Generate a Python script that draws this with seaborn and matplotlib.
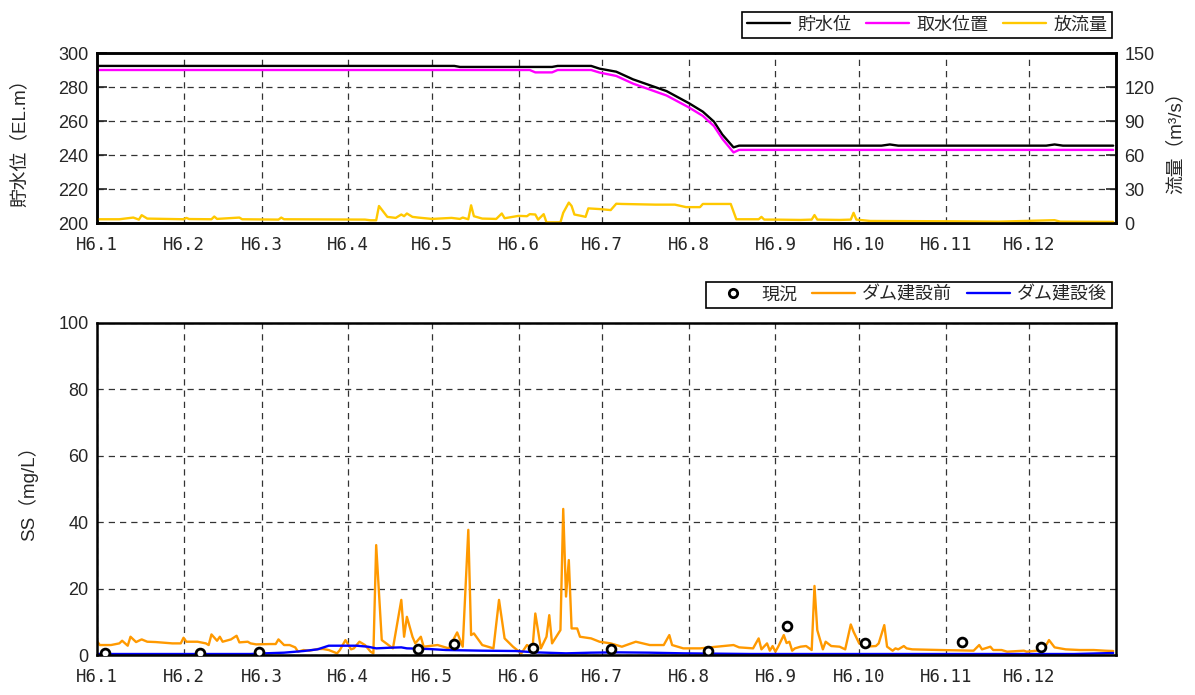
import numpy as np
import pandas as pd
import matplotlib
matplotlib.use("Agg")
import matplotlib.pyplot as plt
import seaborn as sns
from matplotlib.lines import Line2D

# ---------------- data (day of year in H6 = 1994, 0 = Jan 1) ----------------
month_start_days = [0, 31, 59, 90, 120, 151, 181, 212, 243, 273, 304, 334]
month_labels = ["H6.1", "H6.2", "H6.3", "H6.4", "H6.5", "H6.6",
                "H6.7", "H6.8", "H6.9", "H6.10", "H6.11", "H6.12"]

# reservoir water level (EL.m)
level_days = [0, 128, 130, 163, 165, 177, 180, 186, 192, 204, 212, 217, 221, 224,
              228, 230, 281, 284, 287, 340, 343, 346, 364]
level_vals = [292.4, 292.4, 291.8, 291.8, 292.4, 292.4, 290.8, 289.0, 284.5, 277.6,
              270.5, 265.5, 259.6, 252.0, 244.5, 245.5, 245.5, 246.2, 245.5, 245.5,
              246.2, 245.5, 245.5]

# intake level (EL.m)
intake_days = [0, 155, 157, 163, 165, 177, 180, 186, 192, 204, 212, 217, 221, 224,
               228, 230, 364]
intake_vals = [290.0, 290.0, 288.6, 288.6, 290.0, 290.0, 288.5, 286.5, 282.0, 275.0,
               268.0, 263.0, 257.0, 249.5, 241.5, 243.0, 243.0]

# outflow discharge (m3/s)
outflow_days = [0, 8, 13, 15, 16, 18, 31, 32, 33, 41, 42, 43, 51, 52, 65, 66, 67, 96,
                98, 100, 101, 104, 107, 109, 110, 111, 113, 115, 120, 127, 130, 131,
                133, 134, 135, 138, 143, 145, 146, 151, 154, 155, 157, 158, 160, 161,
                166, 167, 169, 170, 171, 174, 175, 176, 180, 184, 186, 188, 200, 207,
                211, 216, 217, 227, 229, 237, 238, 239, 243, 252, 256, 257, 258, 266,
                270, 271, 272, 277, 307, 323, 343, 345, 364]
outflow_vals = [3.3, 3.3, 4.8, 3.0, 6.9, 3.9, 3.3, 4.5, 3.5, 3.3, 5.7, 3.6, 4.8, 3.3,
                3.0, 4.8, 3.3, 3.0, 2.4, 2.4, 15.0, 5.4, 4.5, 7.5, 6.0, 8.4, 5.4, 4.8,
                3.6, 4.5, 3.6, 4.8, 3.3, 15.6, 6.0, 3.9, 3.6, 8.4, 4.2, 6.3, 6.0, 7.8,
                7.5, 3.0, 7.8, 0.6, 0.6, 9.0, 18.0, 15.0, 7.5, 6.0, 5.4, 12.9, 12.3,
                11.4, 17.0, 16.8, 16.2, 16.2, 14.0, 14.0, 16.8, 16.8, 3.3, 3.3, 5.4,
                3.0, 3.0, 2.7, 3.0, 7.0, 3.0, 2.7, 3.0, 9.0, 3.0, 1.8, 1.5, 1.2, 2.5,
                1.2, 1.0]

# SS before dam construction (mg/L)
ss_before_days = [0, 1, 5, 8, 9, 11, 12, 14, 16, 18, 21, 27, 30, 31, 32, 36, 39, 40,
                  41, 43, 44, 45, 48, 50, 51, 54, 55, 57, 62, 64, 65, 67, 69, 71, 72,
                  74, 76, 79, 81, 83, 86, 87, 89, 91, 92, 94, 96, 98, 99, 100, 102,
                  106, 109, 110, 111, 113, 114, 116, 117, 122, 126, 129, 131, 133, 134,
                  135, 138, 142, 144, 146, 149, 152, 154, 156, 157, 159, 161, 162, 163,
                  166, 167, 168, 169, 170, 172, 173, 177, 180, 184, 188, 193, 198, 203,
                  205, 206, 210, 216, 222, 228, 230, 235, 237, 238, 240, 241, 242, 243,
                  244, 246, 247, 248, 249, 250, 252, 254, 256, 257, 258, 260, 261, 263,
                  266, 268, 270, 271, 273, 275, 279, 280, 282, 283, 285, 286, 287, 289,
                  290, 292, 302, 314, 316, 317, 320, 321, 324, 326, 332, 333, 339, 341,
                  343, 347, 352, 357, 361, 364]
ss_before_vals = [4.2, 3.0, 3.0, 3.5, 4.3, 2.8, 5.5, 3.9, 4.7, 4.0, 3.9, 3.5, 3.5, 5.2,
                  4.0, 4.0, 3.5, 3.0, 6.2, 4.3, 5.5, 4.0, 4.7, 5.8, 3.8, 4.0, 3.5, 3.2,
                  3.3, 3.3, 4.7, 3.0, 3.0, 2.3, 1.0, 1.5, 1.3, 1.8, 1.8, 1.5, 0.5, 1.5,
                  4.5, 1.7, 2.0, 4.0, 3.0, 1.0, 0.5, 33.1, 4.5, 2.0, 16.6, 5.5, 11.5,
                  5.5, 3.5, 5.5, 2.5, 3.0, 2.0, 6.8, 2.5, 37.7, 6.0, 6.5, 3.0, 2.0, 16.6,
                  5.0, 2.5, 0.5, 3.0, 2.0, 12.5, 2.0, 5.5, 12.0, 3.5, 7.5, 44.0, 17.6,
                  28.6, 8.0, 8.0, 5.5, 5.0, 4.0, 3.5, 2.5, 4.0, 3.0, 3.0, 6.0, 3.0, 2.0,
                  2.0, 2.5, 3.0, 2.3, 2.0, 5.0, 1.7, 3.5, 1.3, 2.7, 1.0, 2.5, 6.0, 3.6,
                  4.0, 1.3, 2.0, 2.5, 2.7, 1.5, 20.8, 7.5, 1.7, 4.0, 2.7, 2.5, 1.7, 9.2,
                  7.0, 3.5, 2.5, 2.7, 3.5, 9.0, 2.5, 1.3, 2.0, 1.7, 2.7, 2.0, 1.7, 1.5,
                  1.3, 3.0, 1.7, 2.5, 1.5, 1.5, 1.0, 1.3, 1.0, 1.5, 4.5, 2.3, 1.7, 1.5,
                  1.5, 1.3, 1.2]

# SS after dam construction (mg/L)
ss_after_days = [0, 55, 60, 67, 74, 79, 83, 93, 97, 100, 105, 109, 111, 119, 125, 138,
                 150, 157, 168, 177, 186, 198, 210, 234, 350, 364]
ss_after_vals = [0.3, 0.3, 0.5, 0.7, 1.2, 1.7, 2.8, 2.8, 2.5, 2.0, 2.2, 2.3, 2.0, 1.8,
                 1.5, 1.3, 1.2, 0.8, 0.5, 0.7, 0.8, 0.7, 0.5, 0.3, 0.3, 0.6]

# SS observed (present condition)
ss_obs_days = [3, 37, 58, 115, 128, 156, 184, 219, 247, 275, 310, 338]
ss_obs_vals = [0.7, 0.5, 0.8, 1.9, 3.2, 2.1, 1.9, 1.3, 8.8, 3.7, 3.9, 2.3]

# ---------------- style ----------------
sns.set_style("white")
plt.rcParams['font.family'] = ['Liberation Sans', 'Noto Sans CJK JP', 'DejaVu Sans']

W, H = 1195, 695
fig = plt.figure(figsize=(W / 100, H / 100), dpi=100)
ax1 = fig.add_axes([97 / W, 1 - 223 / H, 1019 / W, 170 / H])
ax2 = ax1.twinx()
ax3 = fig.add_axes([97 / W, 1 - 655 / H, 1019 / W, 332 / H])

C_LEVEL, C_INTAKE, C_FLOW = "#000000", "#FF00FF", "#FFC800"
C_BEFORE, C_AFTER = "#FF9900", "#0000FF"

# ---------------- top panel ----------------
sns.lineplot(x=level_days, y=level_vals, ax=ax1, color=C_LEVEL, lw=1.7,
             estimator=None, sort=False)
sns.lineplot(x=intake_days, y=intake_vals, ax=ax1, color=C_INTAKE, lw=1.7,
             estimator=None, sort=False)
sns.lineplot(x=outflow_days, y=outflow_vals, ax=ax2, color=C_FLOW, lw=1.7,
             estimator=None, sort=False)

ax1.set_ylim(200, 300)
ax1.set_yticks(np.arange(200, 301, 20))
ax2.set_ylim(0, 150)
ax2.set_yticks(np.arange(0, 151, 30))

# ---------------- bottom panel ----------------
sns.lineplot(x=ss_before_days, y=ss_before_vals, ax=ax3, color=C_BEFORE, lw=1.7,
             estimator=None, sort=False)
sns.lineplot(x=ss_after_days, y=ss_after_vals, ax=ax3, color=C_AFTER, lw=1.7,
             estimator=None, sort=False)
sns.scatterplot(x=ss_obs_days, y=ss_obs_vals, ax=ax3, marker="o", s=40,
                facecolor="white", edgecolor="black", linewidth=2, zorder=5)
ax3.set_ylim(0, 100)
ax3.set_yticks(np.arange(0, 101, 20))

grid_kw = dict(color="#333333", lw=0.9, linestyle=(0, (5, 4)))
for ax in (ax1, ax3):
    ax.set_xlim(0, 365)
    ax.set_xticks(month_start_days)
    ax.set_xticklabels(month_labels)
    ax.set_xlabel("")
    ax.grid(True, **grid_kw)
    ax.set_axisbelow(True)
    ax.tick_params(axis="x", length=0, pad=9, labelsize=12.5)
    ax.tick_params(axis="y", direction="in", length=7, width=1.2, labelsize=13, pad=6)
    for lbl in ax.get_xticklabels():
        lbl.set_fontfamily("DejaVu Sans Mono")
ax2.grid(False)
ax2.tick_params(axis="y", direction="in", length=7, width=1.2, labelsize=13, pad=6)

for ax in (ax1, ax2, ax3):
    for sp in ax.spines.values():
        sp.set_visible(True)
        sp.set_color("black")
        sp.set_linewidth(1.8)

ax1.set_ylabel("貯水位（EL.m）", fontsize=13.5)
ax1.yaxis.set_label_coords(-0.067, 0.5)
ax2.set_ylabel("流量（m³/s）", fontsize=13.5)
ax2.yaxis.set_label_coords(1.050, 0.5)
ax3.set_ylabel("SS（mg/L）", fontsize=13.5)
ax3.yaxis.set_label_coords(-0.058, 0.5)

leg_kw = dict(loc="lower right", ncol=3, frameon=True, fancybox=False,
              edgecolor="black", framealpha=1, fontsize=13, handlelength=2.4,
              columnspacing=0.8, handletextpad=0.4, borderpad=0.25,
              borderaxespad=0)
h_top = [Line2D([], [], color=C_LEVEL, lw=1.7),
         Line2D([], [], color=C_INTAKE, lw=1.7),
         Line2D([], [], color=C_FLOW, lw=1.7)]
lg1 = ax2.legend(h_top, ["貯水位", "取水位置", "放流量"],
                 bbox_to_anchor=(0.996, 1.088), **leg_kw)
lg1.get_frame().set_linewidth(1.2)

h_bot = [Line2D([], [], ls="none", marker="o", markersize=6, markerfacecolor="white",
                markeredgecolor="black", markeredgewidth=2),
         Line2D([], [], color=C_BEFORE, lw=1.7),
         Line2D([], [], color=C_AFTER, lw=1.7)]
lg2 = ax3.legend(h_bot, ["現況", "ダム建設前", "ダム建設後"],
                 bbox_to_anchor=(0.996, 1.045), **leg_kw)
lg2.get_frame().set_linewidth(1.2)

fig.savefig("out.png", dpi=100)
